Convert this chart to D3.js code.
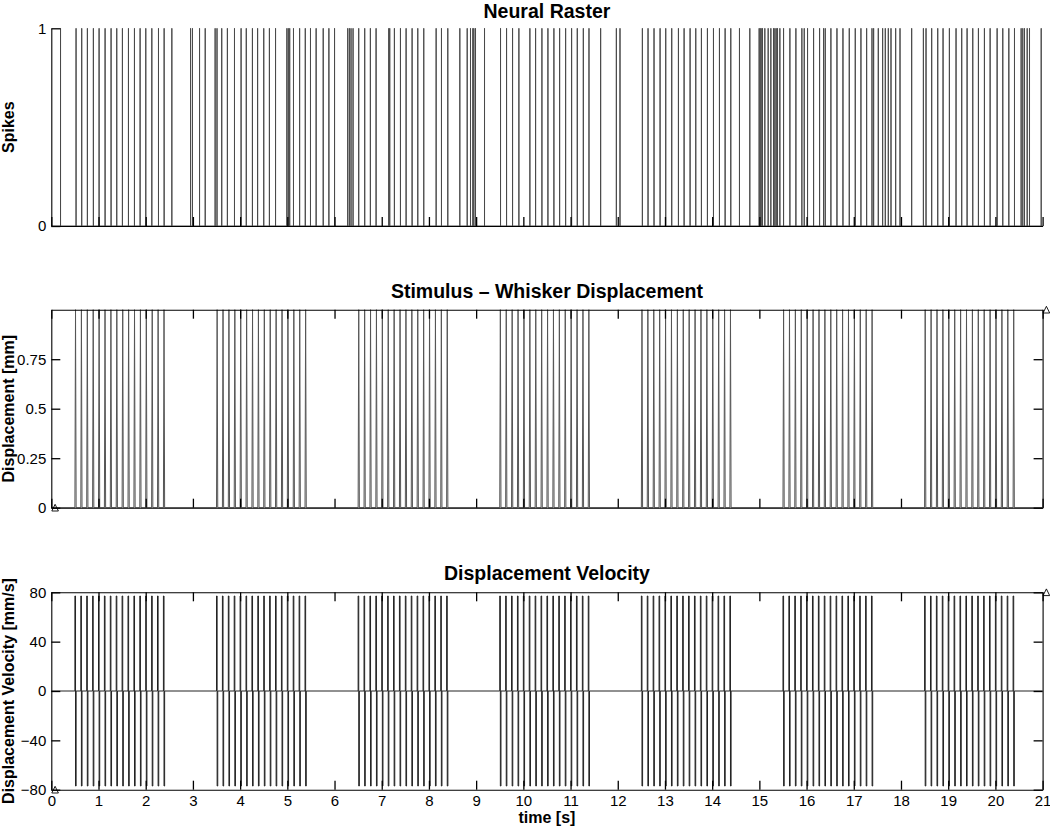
<!DOCTYPE html>
<html><head><meta charset="utf-8">
<script src="https://cdn.jsdelivr.net/npm/d3@7"></script>
<style>
html,body{margin:0;padding:0;background:#fff;}
svg{display:block;}
text{font-family:"Liberation Sans",Arial,Helvetica,sans-serif;fill:#000;}
</style></head><body>
<svg id="chart" width="1050" height="827"></svg>
<script>
// ---------------- data ----------------
const spikeTimes = [
  0.195, 0.524, 0.644, 0.764, 0.891, 1.012, 1.139, 1.266, 1.386, 1.506, 1.634, 1.761, 1.881, 2.001, 2.129, 2.270, 2.390, 2.553,
  2.95, 2.99, 3.14, 3.26, 3.47, 3.51, 3.61, 3.73, 3.88, 4.02, 4.13, 4.26, 4.37, 4.50, 4.62, 4.75, 4.99, 5.02, 5.05, 5.13, 5.26,
  5.38, 5.49, 5.61, 5.76, 5.88, 6.00,
  6.279, 6.314, 6.349, 6.392, 6.512, 6.639, 6.759, 6.880, 7.148, 7.169, 7.268, 7.396, 7.516, 7.643, 7.763, 7.890, 8.152, 8.265,
  8.399, 8.654, 8.810, 8.880, 8.930, 8.951, 8.986, 9.177, 9.516, 9.644, 9.771, 9.905, 10.138, 10.259, 10.393, 10.520, 10.647,
  10.768, 10.895, 11.022, 11.142, 11.270, 11.390, 11.637, 11.970, 12.047, 12.521, 12.641, 12.768, 12.896, 13.016, 13.143,
  13.285, 13.405, 13.532,
  13.652, 13.772, 13.899, 14.027, 14.154, 14.274, 14.394, 14.578, 14.797, 14.995, 15.016, 15.038, 15.066, 15.115, 15.186,
  15.243, 15.299, 15.328, 15.356, 15.384, 15.434, 15.512, 15.646, 15.773, 15.900, 15.950, 16.020, 16.148, 16.275, 16.360,
  16.395, 16.515, 16.643, 16.770, 16.904, 17.031, 17.151, 17.272, 17.385, 17.420, 17.519, 17.611, 17.667, 17.731, 17.788,
  17.887, 17.979, 18.226, 18.474, 18.530, 18.650, 18.778, 18.891, 19.025, 19.166, 19.286, 19.400, 19.520, 19.640, 19.767,
  19.888, 20.036, 20.156, 20.284, 20.404, 20.545, 20.580, 20.616, 20.673, 20.722, 20.970
];
const trainStarts = [0.5, 3.5, 6.5, 9.5, 12.5, 15.5, 18.5];           // s
const pulseOffsets = [0, 0.125, 0.25, 0.375, 0.5, 0.625, 0.75, 0.875,
                      1.0, 1.125, 1.25, 1.375, 1.5, 1.625, 1.75, 1.875]; // s within a train
const pulseRise = 0.013;        // s, rise (and fall) time of one pulse
const displacementPeak = 1;     // mm
const velocityPeak = 77;        // mm/s
const timeTicks = [0,1,2,3,4,5,6,7,8,9,10,11,12,13,14,15,16,17,18,19,20,21];
const spikeTicks = [0, 1];
const displacementTicks = [0, 0.25, 0.5, 0.75];
const velocityTicks = [-80, -40, 0, 40, 80];
const displacementMarkers = [[0, 0], [21, 1]];
const velocityMarkers = [[0, -80], [21, 80]];
const titles = ["Neural Raster", "Stimulus \u2013 Whisker Displacement", "Displacement Velocity"];
const yLabels = ["Spikes", "Displacement [mm]", "Displacement Velocity [mm/s]"];
const xLabel = "time [s]";

// ---------------- layout ----------------
const svg = d3.select("#chart");
const left = 51.3, right = 1042.6;
const panels = [{top: 28.3, bottom: 226, titleY: 17.6}, {top: 309.7, bottom: 507.7, titleY: 297.7}, {top: 592.3, bottom: 789.7, titleY: 580.3}];
const TICK = 9;
const FONT = '"Liberation Sans",Arial,Helvetica,sans-serif';

const x = d3.scaleLinear().domain([0, 21]).range([left, right]);
const yS = d3.scaleLinear().domain([0, 1]).range([panels[0].bottom, panels[0].top]);
const yD = d3.scaleLinear().domain([0, 1]).range([panels[1].bottom, panels[1].top]);
const yV = d3.scaleLinear().domain([-80, 80]).range([panels[2].bottom, panels[2].top]);

function styleAxis(g) {
  g.attr("font-family", FONT).attr("font-size", 15);
  g.selectAll("path.domain").attr("stroke", "#000").attr("stroke-width", 1.1);
  g.selectAll(".tick line").attr("stroke", "#000").attr("stroke-width", 1.3);
  g.selectAll(".tick text").attr("fill", "#000");
}

// ---------------- traces ----------------
// Spike raster trace
const spikePts = [[0, 0]];
spikeTimes.forEach(t => { spikePts.push([t, 0], [t, 1], [t + 0.001, 1], [t + 0.001, 0]); });
spikePts.push([21, 0]);
svg.append("path")
  .attr("d", d3.line().x(d => x(d[0])).y(d => yS(d[1]))(spikePts))
  .attr("fill", "none").attr("stroke", "#4a4a4a").attr("stroke-width", 1);

// Stimulus pulses
const pulses = [];
trainStarts.forEach(s => pulseOffsets.forEach(o => pulses.push(s + o)));
const dispPts = [[0, 0]];
const velPts = [[0, 0]];
pulses.forEach(p => {
  dispPts.push([p, 0], [p + pulseRise, displacementPeak], [p + 2 * pulseRise, 0]);
  velPts.push([p, 0], [p, velocityPeak], [p + pulseRise, velocityPeak],
              [p + pulseRise, -velocityPeak], [p + 2 * pulseRise, -velocityPeak], [p + 2 * pulseRise, 0]);
});
dispPts.push([21, 0]);
velPts.push([21, 0]);

svg.append("path")
  .attr("d", d3.line().x(d => x(d[0])).y(d => yD(d[1]))(dispPts))
  .attr("fill", "none").attr("stroke", "#555").attr("stroke-width", 1);
svg.append("path")
  .attr("d", d3.line().x(d => x(d[0])).y(d => yV(d[1]))(velPts))
  .attr("fill", "none").attr("stroke", "#222").attr("stroke-width", 1);

// ---------------- axes ----------------
// Panel 1
styleAxis(svg.append("g").attr("transform", `translate(0,${panels[0].bottom})`)
  .call(d3.axisBottom(x).tickValues(timeTicks).tickFormat("").tickSizeInner(-TICK).tickSizeOuter(0)));
styleAxis(svg.append("g").attr("transform", `translate(${left},0)`)
  .call(d3.axisLeft(yS).tickValues(spikeTicks).tickFormat(d3.format("d")).tickSizeInner(-TICK).tickSizeOuter(0).tickPadding(5)));

// Panel 2 (boxed)
styleAxis(svg.append("g").attr("transform", `translate(0,${panels[1].bottom})`)
  .call(d3.axisBottom(x).tickValues(timeTicks).tickFormat("").tickSizeInner(-TICK).tickSizeOuter(0)));
styleAxis(svg.append("g").attr("transform", `translate(0,${panels[1].top})`)
  .call(d3.axisTop(x).tickValues(timeTicks).tickFormat("").tickSizeInner(-TICK).tickSizeOuter(0)));
styleAxis(svg.append("g").attr("transform", `translate(${left},0)`)
  .call(d3.axisLeft(yD).tickValues(displacementTicks).tickFormat(d => d === 0 ? "0" : String(d)).tickSizeInner(-TICK).tickSizeOuter(0).tickPadding(5)));
styleAxis(svg.append("g").attr("transform", `translate(${right},0)`)
  .call(d3.axisRight(yD).tickValues(displacementTicks).tickFormat("").tickSizeInner(-TICK).tickSizeOuter(0)));

// Panel 3 (boxed)
styleAxis(svg.append("g").attr("transform", `translate(0,${panels[2].bottom})`)
  .call(d3.axisBottom(x).tickValues(timeTicks).tickFormat(d3.format("d")).tickSizeInner(-TICK).tickSizeOuter(0).tickPadding(6)));
styleAxis(svg.append("g").attr("transform", `translate(0,${panels[2].top})`)
  .call(d3.axisTop(x).tickValues(timeTicks).tickFormat("").tickSizeInner(-TICK).tickSizeOuter(0)));
styleAxis(svg.append("g").attr("transform", `translate(${left},0)`)
  .call(d3.axisLeft(yV).tickValues(velocityTicks).tickFormat(d3.format("d")).tickSizeInner(-TICK).tickSizeOuter(0).tickPadding(5)));
styleAxis(svg.append("g").attr("transform", `translate(${right},0)`)
  .call(d3.axisRight(yV).tickValues(velocityTicks).tickFormat("").tickSizeInner(-TICK).tickSizeOuter(0)));

// ---------------- triangle markers ----------------
function triPath(cx, cy) {
  return `M${cx},${cy - 3.4}L${cx + 3.3},${cy + 3.3}L${cx - 3.3},${cy + 3.3}Z`;
}
svg.selectAll("path.markD").data(displacementMarkers).join("path").attr("class", "markD")
  .attr("d", d => triPath(x(d[0]) + 3.8, yD(d[1])))
  .attr("fill", "none").attr("stroke", "#000").attr("stroke-width", 0.9);
svg.selectAll("path.markV").data(velocityMarkers).join("path").attr("class", "markV")
  .attr("d", d => triPath(x(d[0]) + 3.8, yV(d[1])))
  .attr("fill", "none").attr("stroke", "#000").attr("stroke-width", 0.9);

// ---------------- titles and labels ----------------
const cx = (left + right) / 2;
panels.forEach((p, i) => {
  svg.append("text").attr("x", cx).attr("y", p.titleY)
    .attr("text-anchor", "middle").attr("font-size", 19.5).attr("font-weight", "bold")
    .text(titles[i]);
  svg.append("text")
    .attr("transform", `translate(13.5,${(p.top + p.bottom) / 2}) rotate(-90)`)
    .attr("text-anchor", "middle").attr("font-size", 16).attr("font-weight", "bold")
    .text(yLabels[i]);
});
svg.append("text").attr("x", cx).attr("y", 823)
  .attr("text-anchor", "middle").attr("font-size", 16).attr("font-weight", "bold")
  .text(xLabel);
</script>
</body></html>
